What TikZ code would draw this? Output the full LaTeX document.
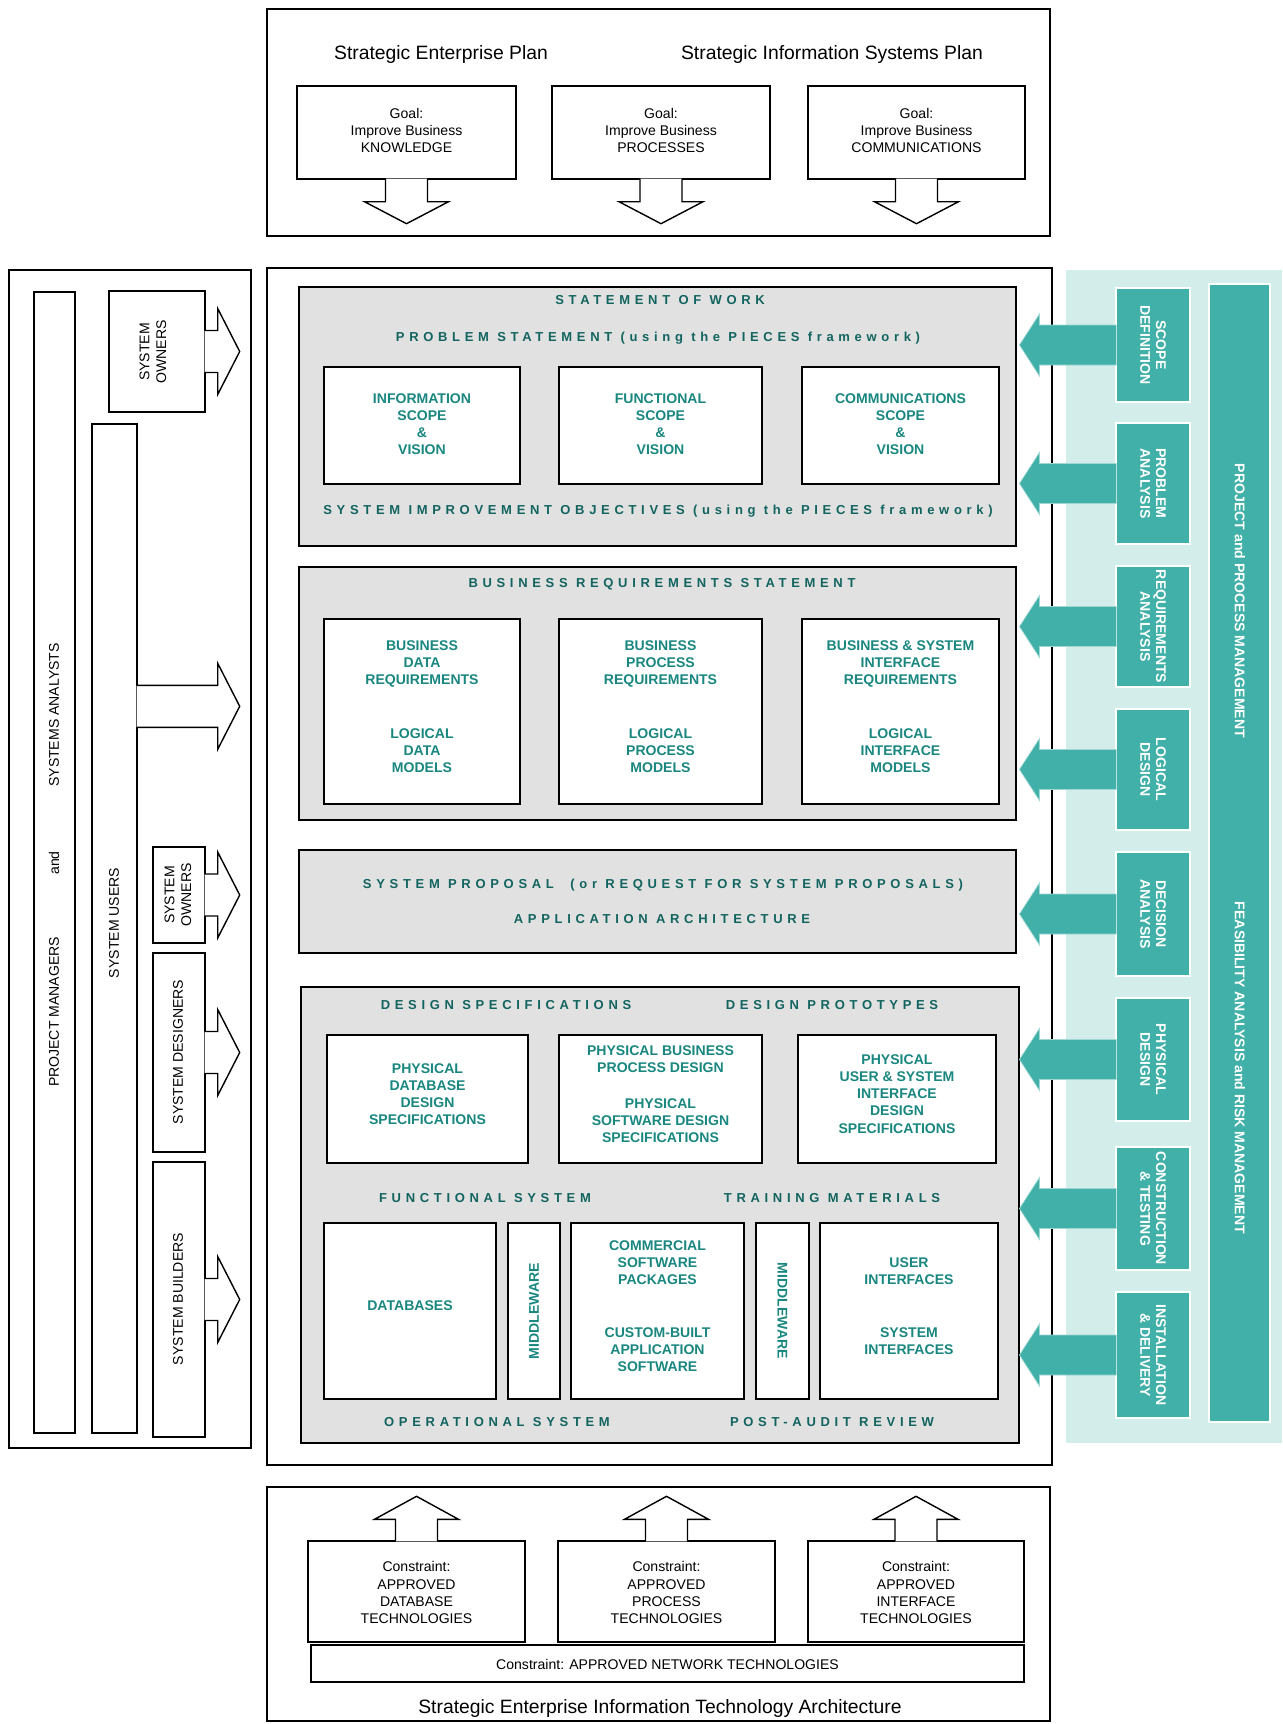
\documentclass[tikz,border=0pt]{standalone}
\usepackage{fontspec}
\setmainfont{Liberation Sans}
\newfontfamily\headfont[LetterSpace=36]{Liberation Sans}
\usepackage{tikz}
\usetikzlibrary{positioning, fit, calc}

\definecolor{phaseteal}{RGB}{64,176,168}
\definecolor{palezone}{RGB}{210,237,234}
\definecolor{headteal}{RGB}{18,100,95}
\definecolor{boxteal}{RGB}{25,135,128}
\definecolor{secgray}{RGB}{225,225,225}

\begin{document}
\begin{tikzpicture}[x=0.02cm, y=-0.02cm, thick, line join=miter]
    \tikzstyle{panel}=[draw, fill=white, inner sep=0pt]
    \tikzstyle{goalbox}=[panel, align=center, font=\fontsize{8}{9.7}\selectfont]
    \tikzstyle{plain}=[inner sep=0pt, align=center, font=\fontsize{8}{9.7}\selectfont]
    \tikzstyle{section}=[draw, fill=secgray, inner sep=0pt, line width=0.6pt]
    \tikzstyle{wbox}=[panel, align=center, text=boxteal, font=\fontsize{8}{9.7}\selectfont\bfseries]
    \tikzstyle{boxtext}=[inner sep=0pt, text=boxteal, font=\fontsize{8}{9.7}\selectfont\bfseries]
    \tikzstyle{heading}=[inner sep=0pt, text=headteal, font=\fontsize{7.4}{8}\selectfont\headfont\bfseries]
    \tikzstyle{fatarrow}=[draw, fill=white]
    \tikzstyle{phase}=[fill=phaseteal, draw=white, line width=0.6pt, inner sep=0pt]
    \tikzstyle{phasetext}=[text=white, align=center, rotate=-90, inner sep=0pt, font=\fontsize{8}{9}\selectfont\bfseries]
    \tikzstyle{tealarrow}=[fill=phaseteal, draw=white!50!phaseteal, line width=0.4pt]
    \tikzstyle{role}=[inner sep=0pt, align=center, rotate=90, font=\fontsize{8}{9.5}\selectfont]
    \tikzstyle{plan}=[inner sep=0pt, font=\fontsize{11}{13}\selectfont]

    \useasboundingbox (0,0) rectangle (1282,1724);

    % Strategic plans on top
    \node[panel, fit={(267,9) (1050,236)}] (plans) {};
    \node[plan] (sep) at (441,55) {Strategic Enterprise Plan};
    \node[plan] (sisp) at (832,55) {Strategic Information Systems Plan};
    \node[goalbox, fit={(297,86) (516,179)}] (gk) {};
    \node[goalbox, fit={(552,86) (770,179)}] (gp) {};
    \node[goalbox, fit={(808,86) (1025,179)}] (gc) {};
    \node[plain] (gktxt) at ($(gk)+(0,-2)$) {Goal:\\Improve Business\\KNOWLEDGE};
    \node[plain] (gptxt) at ($(gp)+(0,-2)$) {Goal:\\Improve Business\\PROCESSES};
    \node[plain] (gctxt) at ($(gc)+(0,-2)$) {Goal:\\Improve Business\\COMMUNICATIONS};
    \foreach \g in {gk,gp,gc}
        \filldraw[fatarrow] ($(\g.south)+(-21,-1)$) -- ++(0,23) -- ++(-21,0) -- ++(42,22) -- ++(42,-22) -- ++(-21,0) -- ++(0,-23);

    % Technology architecture at the bottom
    \node[panel, fit={(267,1487) (1050,1721)}] (arch) {};
    \node[goalbox, fit={(308,1541) (525,1642)}] (cd) {};
    \node[goalbox, fit={(558,1541) (775,1642)}] (cp) {};
    \node[goalbox, fit={(808,1541) (1024,1642)}] (ci) {};
    \node[plain] (cdtxt) at ($(cd)+(0,1)$) {Constraint:\\APPROVED\\DATABASE\\TECHNOLOGIES};
    \node[plain] (cptxt) at ($(cp)+(0,1)$) {Constraint:\\APPROVED\\PROCESS\\TECHNOLOGIES};
    \node[plain] (citxt) at ($(ci)+(0,1)$) {Constraint:\\APPROVED\\INTERFACE\\TECHNOLOGIES};
    \node[goalbox, fit={(311,1645) (1024,1682)}] (cn) {};
    \node[plain] (cntxt) at ($(cn)+(0,1)$) {Constraint: APPROVED NETWORK TECHNOLOGIES};
    \node[plan] (seita) at (660,1708) {Strategic Enterprise Information Technology Architecture};
    \foreach \c in {cd,cp,ci}
        \filldraw[fatarrow] ($(\c.north)+(-21,1)$) -- ++(0,-22) -- ++(-21,0) -- ++(42,-23) -- ++(42,23) -- ++(-21,0) -- ++(0,22);

    % People on the left
    \node[panel, fit={(9,270) (251,1448)}] (roles) {};
    \node[panel, fit={(34,292) (75,1433)}] (pmsa) {};
    \node[role] (pm) at (54,1012) {PROJECT MANAGERS};
    \node[role] (pmand) at (54,863) {and};
    \node[role] (sa) at (54,715) {SYSTEMS ANALYSTS};
    \node[panel, fit={(109,291) (205,412)}] (soA) {};
    \node[panel, fit={(92,424) (137,1433)}] (users) {};
    \node[panel, fit={(153,847) (205,943)}] (soB) {};
    \node[panel, fit={(153,953) (205,1152)}] (des) {};
    \node[panel, fit={(153,1162) (205,1437)}] (bld) {};
    \foreach \b in {soA,soB,des,bld}
        \filldraw[fatarrow] ($(\b.east)+(-1,-21)$) -- ++(13,0) -- ++(0,-22) -- ++(22,43) -- ++(-22,43) -- ++(0,-22) -- ++(-13,0);
    \filldraw[fatarrow] ($(users.north east)+(-1,262)$) -- ++(81,0) -- ++(0,-22) -- ++(22,43) -- ++(-22,43) -- ++(0,-22) -- ++(-81,0);
    \node[role] (soAtxt) at (153,352) {SYSTEM\\OWNERS};
    \node[role] (ustxt) at (114,923) {SYSTEM USERS};
    \node[role] (soBtxt) at (178,895) {SYSTEM\\OWNERS};
    \node[role] (destxt) at (178,1052) {SYSTEM DESIGNERS};
    \node[role] (bldtxt) at (178,1299) {SYSTEM BUILDERS};

    % Main development panel
    \node[panel, fit={(267,268) (1052,1465)}] (sdlc) {};

    % Statement of work
    \node[section, fit={(299,287) (1016,546)}] (sow) {};
    \node[heading] (sowh) at (660,300) {STATEMENT OF WORK};
    \node[heading] (probh) at (658,338) {PROBLEM STATEMENT (using the PIECES framework)};
    \node[wbox, fit={(324,367) (520,484)}] (isv) {};
    \node[wbox, fit={(559,367) (762,484)}] (fsv) {};
    \node[wbox, fit={(802,367) (999,484)}] (csv) {};
    \node[boxtext, align=center] (isvtxt) at ($(isv)+(0,-1)$) {INFORMATION\\SCOPE\\\&\\VISION};
    \node[boxtext, align=center] (fsvtxt) at ($(fsv)+(0,-1)$) {FUNCTIONAL\\SCOPE\\\&\\VISION};
    \node[boxtext, align=center] (csvtxt) at ($(csv)+(0,-1)$) {COMMUNICATIONS\\SCOPE\\\&\\VISION};
    \node[heading] (sioh) at (658,511) {SYSTEM IMPROVEMENT OBJECTIVES (using the PIECES framework)};

    % Business requirements
    \node[section, fit={(299,567) (1016,820)}] (brs) {};
    \node[heading] (brsh) at (662,584) {BUSINESS REQUIREMENTS STATEMENT};
    \node[wbox, fit={(324,619) (520,804)}] (bdr) {BUSINESS\\DATA\\REQUIREMENTS\\[21pt]LOGICAL\\DATA\\MODELS};
    \node[wbox, fit={(559,619) (762,804)}] (bpr) {BUSINESS\\PROCESS\\REQUIREMENTS\\[21pt]LOGICAL\\PROCESS\\MODELS};
    \node[wbox, fit={(802,619) (999,804)}] (bir) {BUSINESS \& SYSTEM\\INTERFACE\\REQUIREMENTS\\[21pt]LOGICAL\\INTERFACE\\MODELS};

    % System proposal
    \node[section, fit={(299,850) (1016,953)}] (prop) {};
    \node[heading] (proph) at (663,885) {SYSTEM PROPOSAL\ \ (or REQUEST FOR SYSTEM PROPOSALS)};
    \node[heading] (aah) at (662,919) {APPLICATION ARCHITECTURE};

    % Design and construction
    \node[section, fit={(301,987) (1019,1443)}] (dsn) {};
    \node[heading] (dsh) at (506,1005) {DESIGN SPECIFICATIONS};
    \node[heading] (dph) at (832,1005) {DESIGN PROTOTYPES};
    \node[wbox, fit={(327,1035) (528,1163)}] (pdd) {PHYSICAL\\DATABASE\\DESIGN\\SPECIFICATIONS};
    \node[wbox, fit={(559,1035) (762,1163)}] (pbp) {PHYSICAL BUSINESS\\PROCESS DESIGN\\[11pt]PHYSICAL\\SOFTWARE DESIGN\\SPECIFICATIONS};
    \node[wbox, fit={(798,1035) (996,1163)}] (pui) {PHYSICAL\\USER \& SYSTEM\\INTERFACE\\DESIGN\\SPECIFICATIONS};
    \node[heading] (fsh) at (485,1198) {FUNCTIONAL SYSTEM};
    \node[heading] (tmh) at (832,1198) {TRAINING MATERIALS};
    \node[wbox, fit={(324,1223) (496,1399)}] (db) {DATABASES};
    \node[wbox, fit={(508,1223) (560,1399)}] (mwA) {};
    \node[boxtext, rotate=90] (mwAtxt) at (mwA) {MIDDLEWARE};
    \node[wbox, fit={(571,1223) (744,1399)}] (csp) {COMMERCIAL\\SOFTWARE\\PACKAGES\\[20pt]CUSTOM-BUILT\\APPLICATION\\SOFTWARE};
    \node[wbox, fit={(756,1223) (809,1399)}] (mwB) {};
    \node[boxtext, rotate=-90] (mwBtxt) at (mwB) {MIDDLEWARE};
    \node[wbox, fit={(820,1223) (998,1399)}] (ui) {USER\\INTERFACES\\[20pt]SYSTEM\\INTERFACES};
    \node[heading] (osh) at (497,1422) {OPERATIONAL SYSTEM};
    \node[heading] (parh) at (832,1422) {POST-AUDIT REVIEW};

    % Phases on the right
    \node[fill=palezone, inner sep=0pt, fit={(1066,270) (1282,1443)}] (zone) {};
    \node[phase, fit={(1209,284) (1270,1422)}] (pbar) {};
    \node[phasetext] (ppm) at (1240,601) {PROJECT and PROCESS MANAGEMENT};
    \node[phasetext] (farm) at (1240,1068) {FEASIBILITY ANALYSIS and RISK MANAGEMENT};
    \foreach \t/\b/\lbl [count=\i] in {288/402/{SCOPE\\DEFINITION}, 423/544/{PROBLEM\\ANALYSIS},
            566/687/{REQUIREMENTS\\ANALYSIS}, 709/830/{LOGICAL\\DESIGN}, 852/976/{DECISION\\ANALYSIS},
            998/1121/{PHYSICAL\\DESIGN}, 1147/1270/{CONSTRUCTION\\\& TESTING}, 1292/1418/{INSTALLATION\\\& DELIVERY}} {
        \node[phase, fit={(1116,\t) (1190,\b)}] (ph\i) {};
        \node[phasetext] (phtxt\i) at (ph\i) {\lbl};
        \filldraw[tealarrow] ($(ph\i.west)+(1,-20)$) -- ++(-77,0) -- ++(0,-11) -- ++(-20,31) -- ++(20,31) -- ++(0,-11) -- ++(77,0);
    }
\end{tikzpicture}
\end{document}
